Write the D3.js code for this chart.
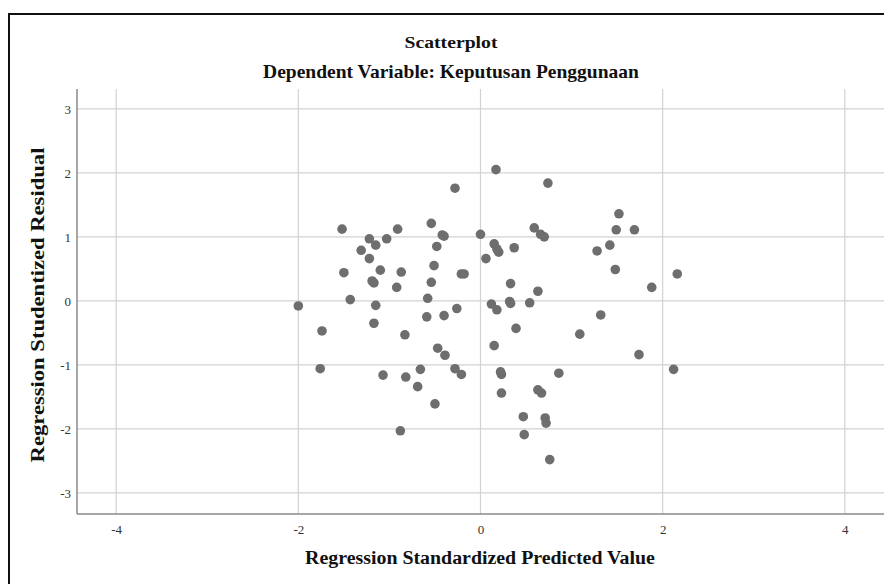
<!DOCTYPE html>
<html>
<head>
<meta charset="utf-8">
<script src="https://cdn.jsdelivr.net/npm/d3@7"></script>
<style>
  body { margin: 0; background: #fff; }
  svg { display: block; }
</style>
</head>
<body>
<svg width="884" height="584"></svg>
<script>
// chart values
const predicted = [
  -1.52, -0.91, -1.22, -1.03, -1.15, -1.31, -1.22, -1.50, -1.10, -0.87,
  -1.19, -1.17, -0.92, -1.43, -2.00, -1.15, 0.17, -0.28, 0.74, -0.54,
  -0.42, -0.40, 0.00, 0.59, 0.66, 0.70, -0.48, 0.15, 0.18, 0.20,
  0.37, 0.06, -0.51, -0.21, -0.18, 0.33, -0.54, 0.63, -0.58, 0.12,
  0.18, 0.32, 0.33, 0.54, -0.26, 1.52, 1.49, 1.69, 1.42, 1.28,
  1.48, 2.16, 1.88, -1.74, -1.17, -0.83, -1.76, -1.07, -0.82, -0.66,
  -0.69, -0.88, -0.59, -0.40, 0.39, -0.47, -0.39, 0.15, -0.28, -0.21,
  0.22, 0.23, 0.86, 0.23, 0.63, 0.67, -0.50, 0.47, 0.71, 0.72,
  0.48, 0.76, 1.32, 1.09, 1.74, 2.12
]
const residual = [
  1.12, 1.12, 0.97, 0.97, 0.87, 0.79, 0.66, 0.44, 0.48, 0.45,
  0.31, 0.28, 0.21, 0.02, -0.08, -0.07, 2.05, 1.76, 1.84, 1.21,
  1.03, 1.01, 1.04, 1.14, 1.04, 1.00, 0.85, 0.89, 0.81, 0.76,
  0.83, 0.66, 0.55, 0.42, 0.42, 0.27, 0.29, 0.15, 0.04, -0.05,
  -0.14, -0.01, -0.04, -0.03, -0.12, 1.36, 1.11, 1.11, 0.87, 0.78,
  0.49, 0.42, 0.21, -0.47, -0.35, -0.53, -1.06, -1.16, -1.19, -1.07,
  -1.34, -2.03, -0.25, -0.23, -0.43, -0.74, -0.85, -0.70, -1.06, -1.15,
  -1.11, -1.15, -1.13, -1.44, -1.39, -1.44, -1.61, -1.81, -1.83, -1.91,
  -2.09, -2.48, -0.22, -0.52, -0.84, -1.07
]
const xTicks = [-4, -2, 0, 2, 4]
const yTicks = [-3, -2, -1, 0, 1, 2, 3]
const xDomain = [-4.43, 4.43]
const yDomain = [-3.33, 3.31]

const titleText = "Scatterplot"
const subtitleText = "Dependent Variable: Keputusan Penggunaan"
const xLabel = "Regression Standardized Predicted Value"
const yLabel = "Regression Studentized Residual"

let plot = {left: 77, right: 884, top: 89, bottom: 514}
const serif = "'Liberation Serif', 'Times New Roman', serif"
const gray = "#6e6e6e"

let svg = d3.select("svg")

// outer frame (right and bottom edges run off the picture)
svg.append("rect")
  .attr("x", 9).attr("y", 14)
  .attr("width", 890).attr("height", 590)
  .attr("fill", "none")
  .attr("stroke", "#111")
  .attr("stroke-width", 2)

let x = d3.scaleLinear().domain(xDomain).range([plot.left, plot.right])
let y = d3.scaleLinear().domain(yDomain).range([plot.bottom, plot.top])

// gridlines
svg.append("g")
  .selectAll("line")
  .data(xTicks)
  .join("line")
  .attr("x1", d => x(d)).attr("x2", d => x(d))
  .attr("y1", plot.top).attr("y2", plot.bottom)
  .attr("stroke", "#d2d2d2").attr("stroke-width", 1.2)

svg.append("g")
  .selectAll("line")
  .data(yTicks)
  .join("line")
  .attr("x1", plot.left).attr("x2", plot.right)
  .attr("y1", d => y(d)).attr("y2", d => y(d))
  .attr("stroke", "#d2d2d2").attr("stroke-width", 1.2)

// axes - plain hyphen for negatives, like the original
let fmt = d => String(d)
let xAxis = svg.append("g")
  .attr("transform", `translate(0,${plot.bottom})`)
  .call(d3.axisBottom(x).tickValues(xTicks).tickSize(0).tickPadding(11).tickFormat(fmt))
let yAxis = svg.append("g")
  .attr("transform", `translate(${plot.left},0)`)
  .call(d3.axisLeft(y).tickValues(yTicks).tickSize(0).tickPadding(6).tickFormat(fmt))

;[xAxis, yAxis].forEach(a => {
  a.attr("font-size", 13).attr("font-family", serif)
  a.select(".domain").attr("stroke", "#8a8a8a").attr("stroke-width", 1.5)
  a.selectAll("text").attr("fill", "#333")
})
// the axis lines run the full plot extent
yAxis.select(".domain").attr("d", `M0,${plot.top}V${plot.bottom}`)
xAxis.select(".domain").attr("d", `M${plot.left},0H${plot.right}`)

// points
svg.append("g")
  .selectAll("circle")
  .data(predicted.map((p, i) => [p, residual[i]]))
  .join("circle")
  .attr("cx", d => x(d[0]))
  .attr("cy", d => y(d[1]))
  .attr("r", 4.8)
  .attr("fill", gray)

// bold serif text at a given glyph size, squeezed sideways to the width it has in the picture
function label(txt, cx, cy, size, width, rotate) {
  let g = svg.append("g")
  let t = g.append("text")
    .text(txt)
    .attr("font-family", serif)
    .attr("font-weight", "bold")
    .attr("font-size", size)
    .attr("text-anchor", "middle")
    .attr("fill", "#111")
  let k = width / t.node().getComputedTextLength()
  let rot = rotate ? " rotate(-90)" : ""
  g.attr("transform", `translate(${cx},${cy})${rot} scale(${k},1)`)
  return t
}

label(titleText, 451, 48, 17, 93)
label(subtitleText, 451, 78, 18.5, 376)
label(xLabel, 480, 564, 19, 350)
label(yLabel, 44, 305, 19, 315, true)
</script>
</body>
</html>
